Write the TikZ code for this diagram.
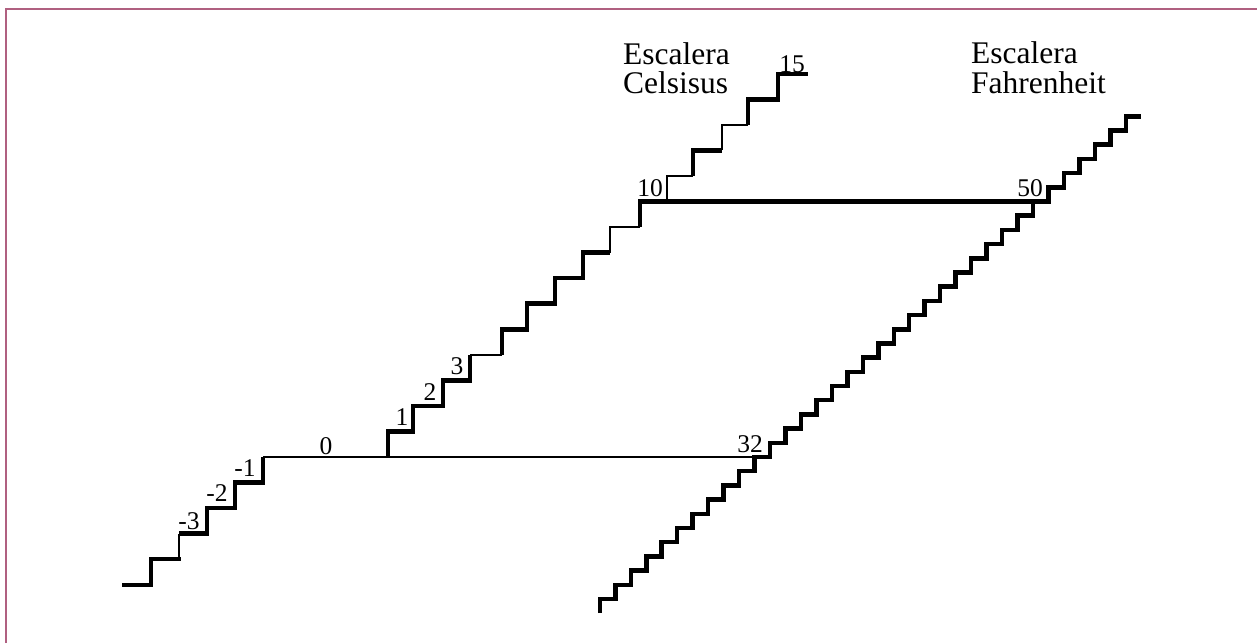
\documentclass[tikz,border=0pt]{standalone}
\usepackage{fontspec}
\setmainfont{Liberation Serif}
\definecolor{framecol}{HTML}{B06080}
\begin{document}
\begin{tikzpicture}[x=1pt,y=-1pt,
  declare function={yc(\n)=457-25.55*\n; yf(\n)=457-14.194*(\n-32); xf(\n)=770+15.47*(\n-32);},
  thickstair/.style={line width=4.5pt, line cap=square, line join=miter},
  thinstair/.style={line width=2pt, line cap=square, line join=miter},
  lbl/.style={inner sep=0pt, font=\fontsize{25.5}{25.5}\selectfont},
  ttl/.style={inner sep=0pt, anchor=base west, font=\fontsize{31.5}{31.5}\selectfont},
  framestyle/.style={line width=2pt, draw=framecol}]
\useasboundingbox (0,0) rectangle (1257,643);
% frame
\draw[framestyle] (6,643) -- (6,9) -- (1257,9);
% Celsius staircase
\draw[thickstair, line cap=butt] (122,{yc(-5)}) -- (151,{yc(-5)}) -- (151,{yc(-4)}) -- (181,{yc(-4)});
\draw[thinstair] (179,{yc(-4)}) -- (179,{yc(-3)});
\draw[thickstair] (179,{yc(-3)}) -- (207,{yc(-3)}) -- (207,{yc(-2)}) -- (235,{yc(-2)}) -- (235,{yc(-1)}) -- (263,{yc(-1)}) -- (263,{yc(0)});
\draw[thinstair, line cap=butt] (263,{yc(0)}) -- (766,{yc(0)});
\draw[thickstair] (388,{yc(0)}) -- (388,{yc(1)}) -- (413,{yc(1)}) -- (413,{yc(2)}) -- (443,{yc(2)}) -- (443,{yc(3)}) -- (470,{yc(3)}) -- (470,{yc(4)});
\draw[thinstair] (470,{yc(4)}) -- (502,{yc(4)});
\draw[thickstair] (502,{yc(4)}) -- (502,{yc(5)}) -- (527,{yc(5)}) -- (527,{yc(6)}) -- (555,{yc(6)}) -- (555,{yc(7)}) -- (583,{yc(7)}) -- (583,{yc(8)}) -- (610,{yc(8)});
\draw[thinstair] (610,{yc(8)}) -- (610,{yc(9)}) -- (640,{yc(9)});
\draw[thickstair, line cap=butt] (640,{yc(9)}) -- (640,{yc(10)}) -- (1048,{yc(10)});
\draw[thinstair] (667,{yc(10)}) -- (667,{yc(11)}) -- (693,{yc(11)});
\draw[thickstair] (693,{yc(11)}) -- (693,{yc(12)}) -- (722,{yc(12)});
\draw[thinstair] (722,{yc(12)}) -- (722,{yc(13)}) -- (748,{yc(13)});
\draw[thickstair, line cap=butt] (748,{yc(13)}) -- (748,{yc(14)}) -- (778,{yc(14)}) -- (778,{yc(15)}) -- (808,{yc(15)});
% Fahrenheit staircase
\draw[thickstair, line cap=butt] ({xf(21)},{yf(21)})
  \foreach \n in {21,...,55}{ -- ({xf(\n)},{yf(\n+1)}) -- ({xf(\n+1)},{yf(\n+1)}) };
% labels
\node[lbl] (cm3) at (189,521) {-3};
\node[lbl] (cm2) at (217,493) {-2};
\node[lbl] (cm1) at (245,468) {-1};
\node[lbl] (c0) at (326,446) {0};
\node[lbl] (c1) at (402,417) {1};
\node[lbl] (c2) at (430,392) {2};
\node[lbl] (c3) at (457,366) {3};
\node[lbl] (c10) at (650,188) {10};
\node[lbl] (c15) at (792,64) {15};
\node[lbl] (f32) at (750,444) {32};
\node[lbl] (f50) at (1030,188) {50};
\node[ttl] (ct1) at (623,64) {Escalera};
\node[ttl] (ct2) at (623,93) {Celsisus};
\node[ttl] (ft1) at (971,63) {Escalera};
\node[ttl] (ft2) at (971,93) {Fahrenheit};
\end{tikzpicture}
\end{document}
